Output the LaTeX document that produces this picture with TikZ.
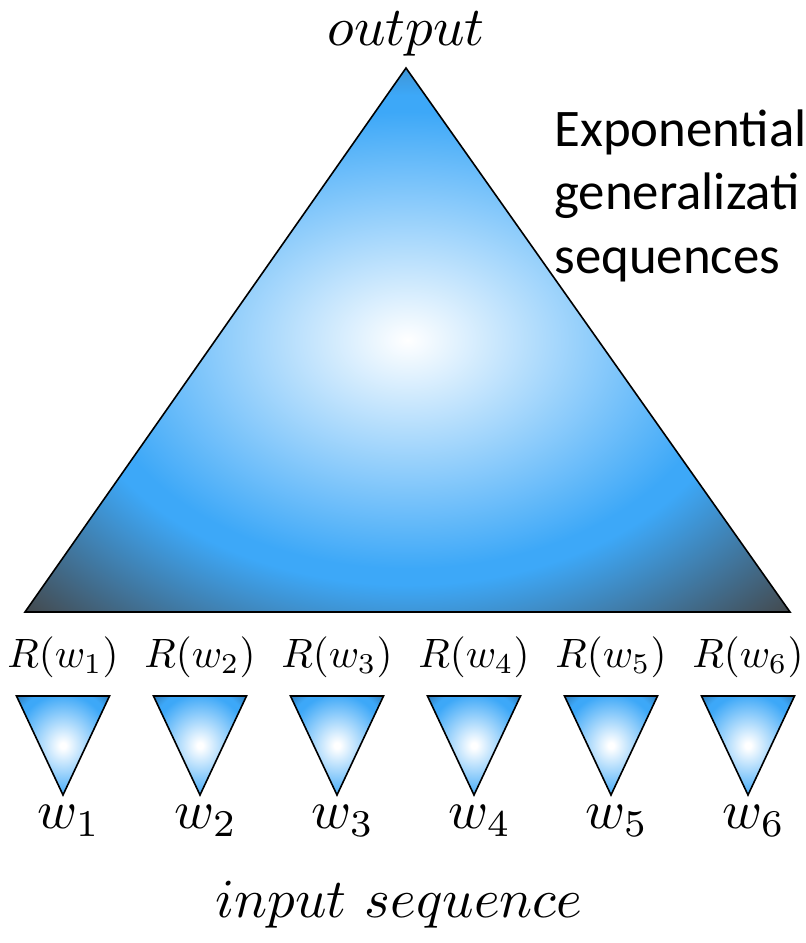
\documentclass[tikz,border=0pt]{standalone}
\usepackage{fontspec}
\newfontfamily\carlito{Carlito}
\usepackage{xcolor}

\definecolor{skyblue}{HTML}{3DA8F8}
\definecolor{cornergray}{HTML}{444444}
\definecolor{cornerblue}{HTML}{2A6FA8}

\pgfdeclareradialshading{bigshade}{\pgfpoint{0bp}{0bp}}{%
  color(0bp)=(white); color(21bp)=(skyblue); color(22.5bp)=(skyblue);
  color(36bp)=(cornergray); color(75bp)=(cornergray)}
\pgfdeclareradialshading{smallshade}{\pgfpoint{0bp}{0bp}}{%
  color(0bp)=(white); color(1.5bp)=(white); color(26bp)=(skyblue);
  color(29bp)=(skyblue); color(37bp)=(cornerblue); color(75bp)=(cornerblue)}

\begin{document}
\begin{tikzpicture}[
    x=0.5pt, y=-0.5pt,
    big tri/.style={shading=bigshade, draw=black, line width=0.8pt},
    small tri/.style={shading=smallshade, draw=black, line width=0.8pt},
    rep label/.style={anchor=base, inner sep=0pt, scale=2.05},
    word label/.style={anchor=base, inner sep=0pt, scale=2.7},
    title label/.style={anchor=base, inner sep=0pt, scale=2.75}
]
    \useasboundingbox (0,0) rectangle (806,943);

    \shade[big tri] (25,612) -- (406,68) -- (790,612) -- cycle;
    \node[title label] (output) at (406,45) {$output$};
    \node[anchor=base west, align=left, inner sep=0pt,
          font=\carlito\fontsize{26.4}{31.75}\selectfont] (note) at (554,273)
          {Exponential\\generalizati\\sequences};

    % one small triangle per input word
    \foreach \i in {1,...,6} {
        \pgfmathsetmacro{\cx}{63+137*(\i-1)}
        \shade[small tri] (\cx-46.5,696) -- (\cx+46.5,696) -- (\cx,795) -- cycle;
        \node[rep label] (r\i) at (\cx,667) {$R(w_{\i})$};
        \node[word label] (w\i) at (\cx+6,828) {$w_{\i}$};
    }

    \node[title label] (input) at (399,917) {$input\ sequence$};
\end{tikzpicture}
\end{document}
